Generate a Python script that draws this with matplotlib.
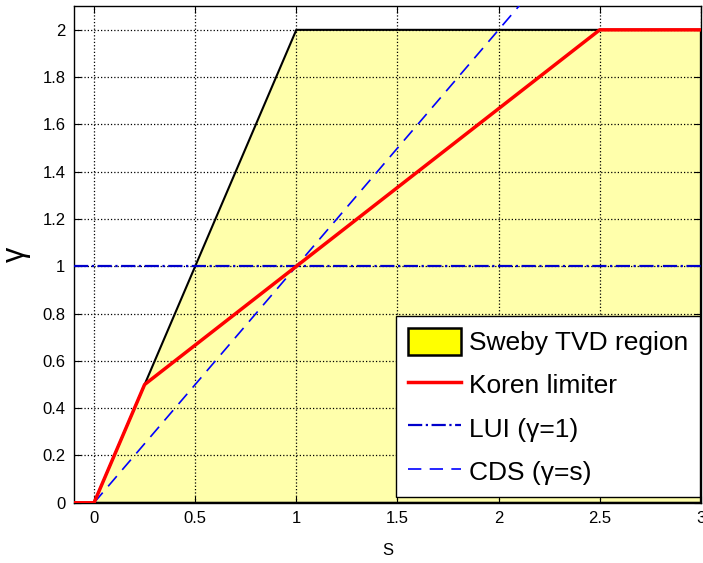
import matplotlib.pyplot as plt
from matplotlib.patches import Polygon

plt.rcParams['font.family'] = ['Liberation Sans', 'DejaVu Sans']

# Sweby TVD region boundary
tvd_s = [0, 1, 3, 3]
tvd_g = [0, 2, 2, 0]
# Koren limiter
koren_s = [-0.1, 0, 0.25, 2.5, 3]
koren_g = [0, 0, 0.5, 2, 2]
# LUI (gamma = 1)
lui_s = [-0.1, 3]
lui_g = [1, 1]
# CDS (gamma = s)
cds_s = [0, 2.2]
cds_g = [0, 2.2]

xticks = [0, 0.5, 1, 1.5, 2, 2.5, 3]
yticks = [0, 0.2, 0.4, 0.6, 0.8, 1, 1.2, 1.4, 1.6, 1.8, 2]

fig = plt.figure(figsize=(7.03, 5.63), dpi=100)
ax = fig.add_axes([0.105, 0.107, 0.892, 0.882])

poly = Polygon(list(zip(tvd_s, tvd_g)), closed=True, facecolor=(1, 1, 0.67),
               edgecolor='black', lw=1.5, zorder=1)
ax.add_patch(poly)
leg_patch = Polygon([[0, 0]], facecolor='yellow', edgecolor='black', lw=1.8)

ax.plot(koren_s, koren_g, color='#ff0000', lw=2.5, zorder=4)
ax.plot(lui_s, lui_g, color='#0000cc', lw=1.6, ls='-.', zorder=3)
ax.plot(cds_s, cds_g, color='#0000ff', lw=1.2, ls=(0, (8, 5)), zorder=3)

ax.set_xlim(-0.1, 3)
ax.set_ylim(0, 2.1)
ax.set_xticks(xticks)
ax.set_xticklabels(['0', '0.5', '1', '1.5', '2', '2.5', '3'])
ax.set_yticks(yticks)
ax.set_yticklabels(['0', '0.2', '0.4', '0.6', '0.8', '1', '1.2', '1.4', '1.6', '1.8', '2'])
ax.tick_params(direction='in', top=True, right=True, labelsize=12, length=5, pad=6)
ax.grid(True, ls=':', color='black', lw=0.9)
ax.set_axisbelow(False)
for sp in ax.spines.values():
    sp.set_linewidth(1.0)

ax.set_xlabel('S', fontsize=12, labelpad=12)
ax.set_ylabel('γ', fontsize=22, labelpad=8)

lines = ax.get_lines()
ax.legend([leg_patch, lines[0], lines[1], lines[2]],
          ['Sweby TVD region', 'Koren limiter', 'LUI (γ=1)', 'CDS (γ=s)'],
          loc='lower right', bbox_to_anchor=(0.998, 0.012), fontsize=19,
          fancybox=False, edgecolor='black', framealpha=1, handlelength=2.0,
          handleheight=1.2, handletextpad=0.3, borderpad=0.45,
          borderaxespad=0, labelspacing=0.6)

fig.savefig('out.png', dpi=100)
